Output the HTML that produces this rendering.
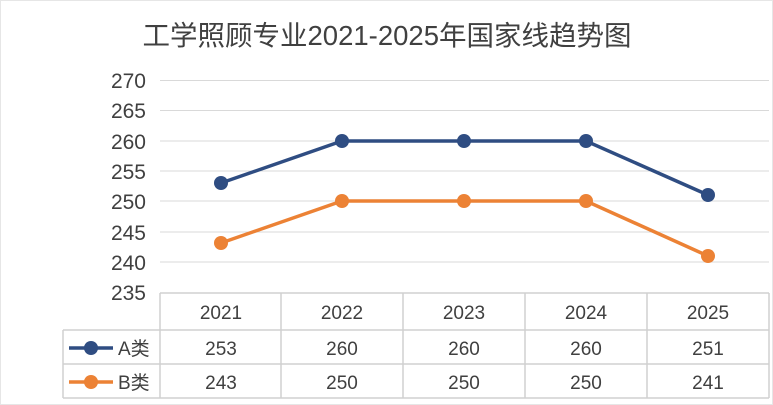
<!DOCTYPE html>
<html><head><meta charset="utf-8"><style>
body{margin:0;background:#fff}
svg{display:block}
text{font-family:"Liberation Sans","Noto Sans CJK SC",sans-serif;fill:#404040}
</style></head><body>
<svg width="773" height="405" viewBox="0 0 773 405" xmlns="http://www.w3.org/2000/svg">
<rect x="0.5" y="0.5" width="772" height="404" fill="#fff" stroke="#e6e6e6"/>
<text x="387" y="45" font-size="27.5" text-anchor="middle" fill="#404040">工学照顾专业2021-2025年国家线趋势图</text>
<g stroke="#d9d9d9" stroke-width="1">
<line x1="160" y1="80.5" x2="769" y2="80.5"/>
<line x1="160" y1="110.5" x2="769" y2="110.5"/>
<line x1="160" y1="141" x2="769" y2="141"/>
<line x1="160" y1="171" x2="769" y2="171"/>
<line x1="160" y1="201" x2="769" y2="201"/>
<line x1="160" y1="232" x2="769" y2="232"/>
<line x1="160" y1="262" x2="769" y2="262"/>
</g>
<g font-size="21" text-anchor="end">
<text x="146" y="88">270</text><text x="146" y="118">265</text><text x="146" y="149">260</text>
<text x="146" y="179">255</text><text x="146" y="209">250</text><text x="146" y="240">245</text>
<text x="146" y="270">240</text><text x="146" y="300">235</text>
</g>
<g stroke="#d0d0d0" stroke-width="1.5" fill="none">
<line x1="160" y1="293" x2="769" y2="293"/>
<line x1="63" y1="330" x2="769" y2="330"/>
<line x1="63" y1="364" x2="769" y2="364"/>
<line x1="63" y1="398" x2="769" y2="398"/>
<line x1="63" y1="330" x2="63" y2="398"/>
<line x1="160" y1="293" x2="160" y2="398"/>
<line x1="281" y1="293" x2="281" y2="398"/>
<line x1="403" y1="293" x2="403" y2="398"/>
<line x1="525" y1="293" x2="525" y2="398"/>
<line x1="647" y1="293" x2="647" y2="398"/>
<line x1="769" y1="293" x2="769" y2="398"/>
</g>
<g font-size="19" text-anchor="middle">
<text x="221" y="319">2021</text><text x="342" y="319">2022</text><text x="464" y="319">2023</text><text x="586" y="319">2024</text><text x="708" y="319">2025</text>
<text x="221" y="355">253</text><text x="342" y="355">260</text><text x="464" y="355">260</text><text x="586" y="355">260</text><text x="708" y="355">251</text>
<text x="221" y="389">243</text><text x="342" y="389">250</text><text x="464" y="389">250</text><text x="586" y="389">250</text><text x="708" y="389">241</text>
</g>
<polyline points="221,183 342,141 464,141 586,141 708,195" fill="none" stroke="#2f4d82" stroke-width="3.5"/>
<polyline points="221,243 342,201 464,201 586,201 708,256" fill="none" stroke="#ec8235" stroke-width="3.5"/>
<g fill="#2f4d82"><circle cx="221" cy="183" r="7"/><circle cx="342" cy="141" r="7"/><circle cx="464" cy="141" r="7"/><circle cx="586" cy="141" r="7"/><circle cx="708" cy="195" r="7"/></g>
<g fill="#ec8235"><circle cx="221" cy="243" r="7"/><circle cx="342" cy="201" r="7"/><circle cx="464" cy="201" r="7"/><circle cx="586" cy="201" r="7"/><circle cx="708" cy="256" r="7"/></g>
<line x1="69" y1="348" x2="113" y2="348" stroke="#2f4d82" stroke-width="3.5"/><circle cx="91" cy="348" r="7" fill="#2f4d82"/>
<line x1="69" y1="382" x2="113" y2="382" stroke="#ec8235" stroke-width="3.5"/><circle cx="91" cy="382" r="7" fill="#ec8235"/>
<text x="118" y="355" font-size="19">A类</text>
<text x="118" y="389" font-size="19">B类</text>
</svg>
</body></html>
